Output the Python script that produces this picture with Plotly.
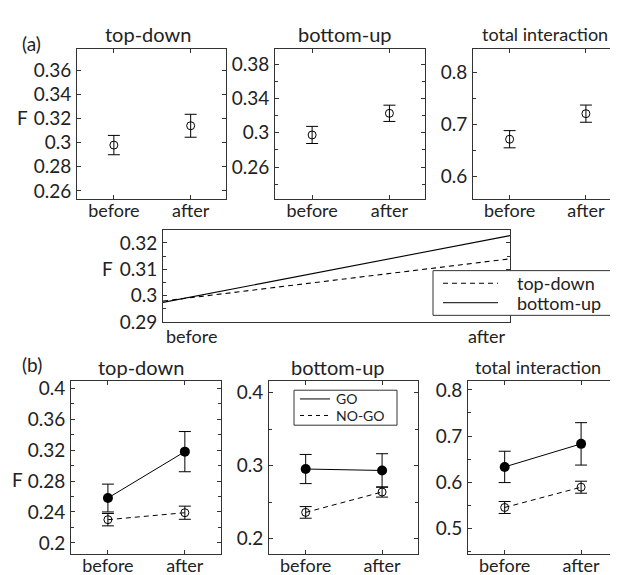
import plotly.graph_objects as go

W, H = 618, 575
FONT = "Lato"
INK = "#222222"

# ---------------- data ----------------
conds = ["before", "after"]
xpos = [1, 2]

# (a) whole group
a_td_mean = [0.298, 0.314]
a_td_err = [0.008, 0.0095]
a_bu_mean = [0.2975, 0.3228]
a_bu_err = [0.010, 0.0095]
a_ti_mean = [0.672, 0.721]
a_ti_err = [0.0165, 0.0165]

# (b) GO / NO-GO
b_td_go = [0.258, 0.318]
b_td_go_err = [0.018, 0.026]
b_td_nogo = [0.230, 0.239]
b_td_nogo_err = [0.008, 0.0085]
b_bu_go = [0.2955, 0.2935]
b_bu_go_err = [0.020, 0.023]
b_bu_nogo = [0.236, 0.264]
b_bu_nogo_err = [0.008, 0.007]
b_ti_go = [0.633, 0.683]
b_ti_go_err = [0.034, 0.046]
b_ti_nogo = [0.545, 0.589]
b_ti_nogo_err = [0.013, 0.013]


def px(x):
    return x / W


def py(y):
    return 1 - y / H


fig = go.Figure()

open_marker = dict(symbol="circle-open", size=8, color="black", line=dict(width=1, color="black"))
fill_marker = dict(symbol="circle", size=10, color="black")


def err(arr):
    return dict(type="data", array=arr, visible=True, color="black", thickness=1, width=6)


# top row
for i, (m, e) in enumerate([(a_td_mean, a_td_err), (a_bu_mean, a_bu_err), (a_ti_mean, a_ti_err)]):
    sfx = "" if i == 0 else str(i + 1)
    fig.add_trace(go.Scatter(x=xpos, y=m, error_y=err(e), mode="markers", marker=open_marker,
                             xaxis="x" + sfx, yaxis="y" + sfx, showlegend=False))

# middle comparison panel
fig.add_trace(go.Scatter(x=xpos, y=a_td_mean, mode="lines", line=dict(color="black", width=1.1, dash="5px,4px"),
                         xaxis="x7", yaxis="y7", showlegend=False, cliponaxis=False))
fig.add_trace(go.Scatter(x=xpos, y=a_bu_mean, mode="lines", line=dict(color="black", width=1.1),
                         xaxis="x7", yaxis="y7", showlegend=False, cliponaxis=False))

# bottom row
bottom = [(b_td_go, b_td_go_err, b_td_nogo, b_td_nogo_err),
          (b_bu_go, b_bu_go_err, b_bu_nogo, b_bu_nogo_err),
          (b_ti_go, b_ti_go_err, b_ti_nogo, b_ti_nogo_err)]
for i, (g, ge, n, ne) in enumerate(bottom):
    sfx = str(i + 4)
    fig.add_trace(go.Scatter(x=xpos, y=n, error_y=err(ne), mode="lines+markers", marker=open_marker,
                             line=dict(color="black", width=1, dash="5px,4px"),
                             xaxis="x" + sfx, yaxis="y" + sfx, showlegend=False))
    fig.add_trace(go.Scatter(x=xpos, y=g, error_y=err(ge), mode="lines+markers", marker=fill_marker,
                             line=dict(color="black", width=1),
                             xaxis="x" + sfx, yaxis="y" + sfx, showlegend=False))

ax = dict(showline=True, linecolor="#333333", linewidth=1, mirror="ticks", ticks="inside",
          tickcolor="#333333", ticklen=4, zeroline=False, showgrid=False)


def xax(dom, rng, labels=True):
    d = dict(ax)
    d.update(domain=[px(dom[0]), px(dom[1])], range=rng, tickvals=xpos, ticktext=conds,
             showticklabels=labels, ticklabelstandoff=-4,
             tickfont=dict(family=FONT, size=18, color=INK))
    return d


def yax(dom, rng, major, minor=None):
    d = dict(ax)
    d.update(domain=[py(dom[1]), py(dom[0])], range=rng, tickvals=major,
             ticktext=[("%g" % v) for v in major], ticklabelstandoff=1,
             tickfont=dict(family=FONT, size=19, color=INK))
    if minor:
        d["minor"] = dict(ticks="inside", dtick=minor, ticklen=3, tickcolor="#333333", showgrid=False)
    return d


layout = dict(
    width=W, height=H, margin=dict(l=0, r=0, t=0, b=0),
    paper_bgcolor="white", plot_bgcolor="white",
    font=dict(family=FONT, size=18, color=INK),
)

rx = [0.52, 2.46]
# top row
layout["xaxis"] = xax((69, 218), rx); layout["xaxis"]["anchor"] = "y"
layout["yaxis"] = yax((37, 191), [0.2536, 0.3776], [0.26, 0.28, 0.3, 0.32, 0.34, 0.36]); layout["yaxis"]["anchor"] = "x"
layout["xaxis2"] = xax((267, 417), rx); layout["xaxis2"]["anchor"] = "y2"
layout["yaxis2"] = yax((37, 191), [0.223, 0.398], [0.26, 0.3, 0.34, 0.38], 0.02); layout["yaxis2"]["anchor"] = "x2"
layout["xaxis3"] = xax((465, 613), rx); layout["xaxis3"]["anchor"] = "y3"
layout["yaxis3"] = yax((37, 191), [0.558, 0.845], [0.6, 0.7, 0.8], 0.05); layout["yaxis3"]["anchor"] = "x3"
# bottom row
rb = [0.52, 2.47]
layout["xaxis4"] = xax((63, 213), rb); layout["xaxis4"]["anchor"] = "y4"
layout["yaxis4"] = yax((379, 556), [0.1862, 0.4088], [0.2, 0.24, 0.28, 0.32, 0.36, 0.4], 0.02); layout["yaxis4"]["anchor"] = "x4"
layout["xaxis5"] = xax((261, 410), rb); layout["xaxis5"]["anchor"] = "y5"
layout["yaxis5"] = yax((379, 556), [0.1796, 0.4156], [0.2, 0.3, 0.4], 0.05); layout["yaxis5"]["anchor"] = "x5"
layout["xaxis6"] = xax((460, 609), rb); layout["xaxis6"]["anchor"] = "y6"
layout["yaxis6"] = yax((379, 556), [0.4451, 0.8184], [0.5, 0.6, 0.7, 0.8], 0.05); layout["yaxis6"]["anchor"] = "x6"
# middle
layout["xaxis7"] = xax((155, 502), [1, 2], labels=False); layout["xaxis7"]["anchor"] = "y7"
layout["xaxis7"]["ticks"] = ""
layout["yaxis7"] = yax((223, 318), [0.29, 0.325], [0.29, 0.3, 0.31, 0.32], 0.005); layout["yaxis7"]["anchor"] = "x7"

fig.update_layout(**layout)

ann = []
def text(x, y, s, size=18, xanchor="center", xref="paper", yref="paper"):
    ann.append(dict(x=x if xref != "paper" else px(x), y=py(y) if yref == "paper" else y, text=s,
                    xref=xref, yref=yref, showarrow=False, xanchor=xanchor, yanchor="middle",
                    font=dict(family=FONT, size=size, color=INK)))

text(23, 31, "(a)", 19)
text(140, 22, "top-down", 20)
text(337, 22, "bottom-up", 20)
text(537, 22, "total interaction", 18)
text(14, 108, "F", 19)
text(99, 263, "F", 19)
text(24, 362, "(b)", 19)
text(133, 364, "top-down", 20)
text(330, 364, "bottom-up", 20)
text(530, 364, "total interaction", 18)
text(9, 480, "F", 19)
# middle panel x labels
ann.append(dict(x=1, y=py(332), xref="x7", yref="paper", text="before", showarrow=False, xanchor="left",
                yanchor="middle", xshift=1, font=dict(family=FONT, size=18, color=INK)))
ann.append(dict(x=2, y=py(332), xref="x7", yref="paper", text="after", showarrow=False, xanchor="right",
                yanchor="middle", xshift=-2, font=dict(family=FONT, size=18, color=INK)))
# legend texts
text(507, 278, "top-down", 18, xanchor="left")
text(507, 298, "bottom-up", 18, xanchor="left")
text(326, 396.5, "GO", 14, xanchor="left")
text(326, 414.5, "NO-GO", 14, xanchor="left")

shapes = [
    dict(type="rect", xref="paper", yref="paper", x0=px(425), x1=px(640), y0=py(311), y1=py(265),
         line=dict(color="#333333", width=1), fillcolor="white", layer="above"),
    dict(type="line", xref="paper", yref="paper", x0=px(435), x1=px(490), y0=py(278), y1=py(278),
         line=dict(color="black", width=1, dash="5px,4px"), layer="above"),
    dict(type="line", xref="paper", yref="paper", x0=px(435), x1=px(490), y0=py(298), y1=py(298),
         line=dict(color="black", width=1), layer="above"),
    dict(type="rect", xref="paper", yref="paper", x0=px(286), x1=px(389), y0=py(424), y1=py(388),
         line=dict(color="#333333", width=1), fillcolor="white", layer="above"),
    dict(type="line", xref="paper", yref="paper", x0=px(292), x1=px(322), y0=py(397), y1=py(397),
         line=dict(color="black", width=1), layer="above"),
    dict(type="line", xref="paper", yref="paper", x0=px(292), x1=px(322), y0=py(414), y1=py(414),
         line=dict(color="black", width=1, dash="4px,4px"), layer="above"),
]

fig.update_layout(annotations=ann, shapes=shapes)
fig.write_html("out.html")
